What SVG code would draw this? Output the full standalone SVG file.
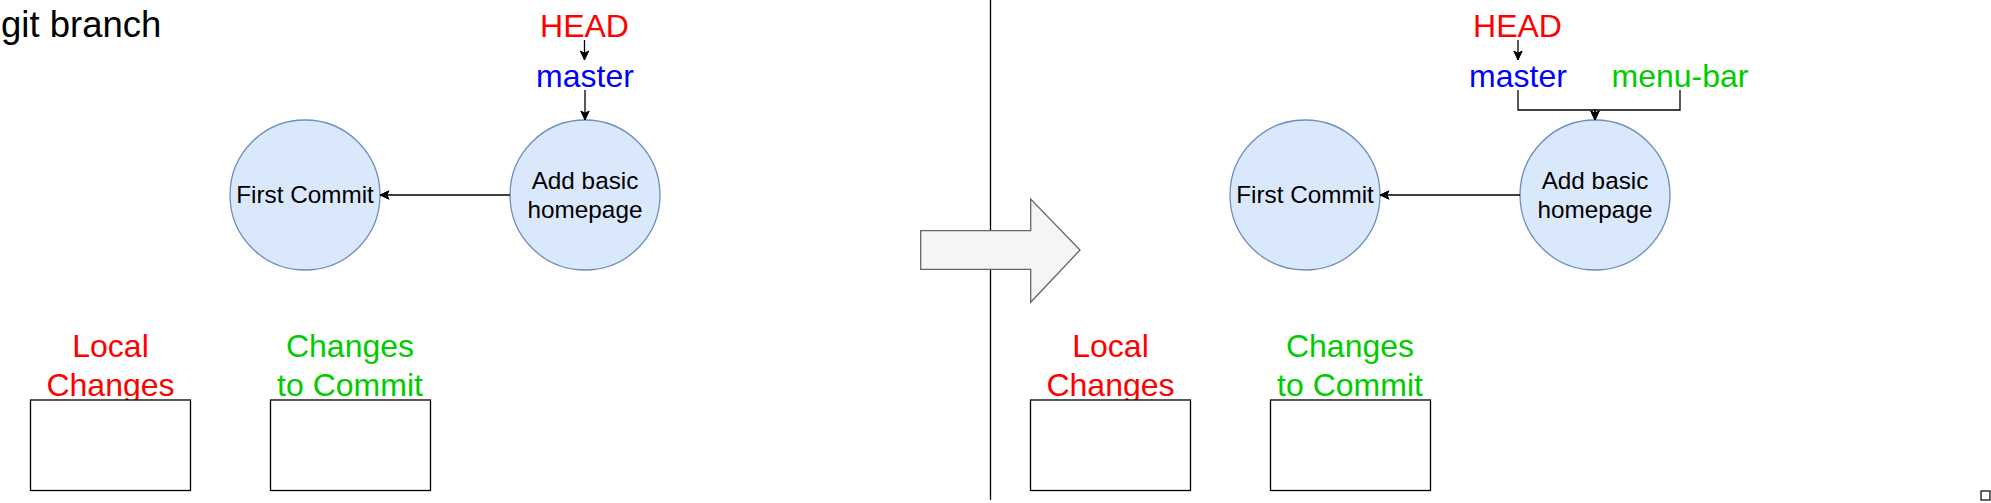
<svg xmlns="http://www.w3.org/2000/svg" width="1991" height="503" viewBox="0 0 1991 503">
<style>
text { font-family: "Liberation Sans", Arial, Helvetica, sans-serif; }
.lbl { font-size: 32px; text-anchor: middle; }
.red { fill: #FF0000; }
.blue { fill: #0000FF; }
.green { fill: #00CC00; }
.node { fill: #dae8fc; stroke: #6c8ebf; stroke-width: 1.3; }
.ntxt { font-size: 24.3px; text-anchor: middle; fill: #000000; }
.box { fill: #ffffff; stroke: #000000; stroke-width: 1.3; }
.edge { fill: none; stroke: #000000; stroke-width: 1.3; }
</style>
<defs>
<marker id="arr" markerUnits="userSpaceOnUse" markerWidth="12" markerHeight="12" viewBox="-10 -6 12 12" refX="0" refY="0" orient="auto">
<path d="M0,0 L-9,-4.2 L-6.8,0 L-9,4.2 Z" fill="#000000" stroke="#000000" stroke-width="1"/>
</marker>
</defs>
<rect width="1991" height="503" fill="#ffffff"/>

<g id="title"><text x="1" y="37" style="font-size:36.5px" fill="#000000">git branch</text></g>

<line id="divider" x1="990.5" y1="0" x2="990.5" y2="500" stroke="#000000" stroke-width="1.3"/>
<g id="transition-arrow"><polygon points="920.7,230.7 1030.7,230.7 1030.7,199 1080,250 1030.7,302.3 1030.7,269.3 920.7,269.3" fill="#f5f5f5" stroke="#666666" stroke-width="1.3"/></g>

<!-- Left panel -->
<g id="head-left"><text class="lbl red" x="584.5" y="37">HEAD</text></g>
<g id="master-left"><text class="lbl blue" x="585" y="87">master</text></g>
<g id="first-commit-left"><circle class="node" cx="305" cy="195" r="75"/><text class="ntxt" x="305" y="203.4">First Commit</text></g>
<g id="add-basic-left"><circle class="node" cx="585" cy="195" r="75"/><text class="ntxt" x="585" y="189">Add basic</text><text class="ntxt" x="585" y="217.8">homepage</text></g>
<g id="local-changes-left"><text class="lbl red" x="110.5" y="357">Local</text><text class="lbl red" x="110.5" y="395.5">Changes</text><rect class="box" x="30.5" y="400" width="160" height="90.5"/></g>
<g id="changes-to-commit-left"><text class="lbl green" x="350" y="357">Changes</text><text class="lbl green" x="350" y="395.5">to Commit</text><rect class="box" x="270.5" y="400" width="160" height="90.5"/></g>

<!-- Right panel -->
<g id="head-right"><text class="lbl red" x="1517.5" y="37">HEAD</text></g>
<g id="master-right"><text class="lbl blue" x="1518" y="87">master</text></g>
<g id="menu-bar-right"><text class="lbl green" x="1680" y="87">menu-bar</text></g>
<g id="first-commit-right"><circle class="node" cx="1305" cy="195" r="75"/><text class="ntxt" x="1305" y="203.4">First Commit</text></g>
<g id="add-basic-right"><circle class="node" cx="1595" cy="195" r="75"/><text class="ntxt" x="1595" y="189">Add basic</text><text class="ntxt" x="1595" y="217.8">homepage</text></g>
<g id="local-changes-right"><text class="lbl red" x="1110.5" y="357">Local</text><text class="lbl red" x="1110.5" y="395.5">Changes</text><rect class="box" x="1030.5" y="400" width="160" height="90.5"/></g>
<g id="changes-to-commit-right"><text class="lbl green" x="1350" y="357">Changes</text><text class="lbl green" x="1350" y="395.5">to Commit</text><rect class="box" x="1270.5" y="400" width="160" height="90.5"/></g>

<g id="corner-box"><rect x="1981" y="491" width="9" height="9" fill="#ffffff" stroke="#000000" stroke-width="1.2"/></g>

<g id="connectors">
<path class="edge" d="M584.5,40 V60" marker-end="url(#arr)"/>
<path class="edge" d="M585,90 V120" marker-end="url(#arr)"/>
<path class="edge" d="M510,195 H380" marker-end="url(#arr)"/>
<path class="edge" d="M1518,40 V60" marker-end="url(#arr)"/>
<path class="edge" d="M1518,90 V110 H1595 V120" marker-end="url(#arr)"/>
<path class="edge" d="M1680,90 V110 H1595 V120" marker-end="url(#arr)"/>
<path class="edge" d="M1520,195 H1380" marker-end="url(#arr)"/>
</g>
</svg>
